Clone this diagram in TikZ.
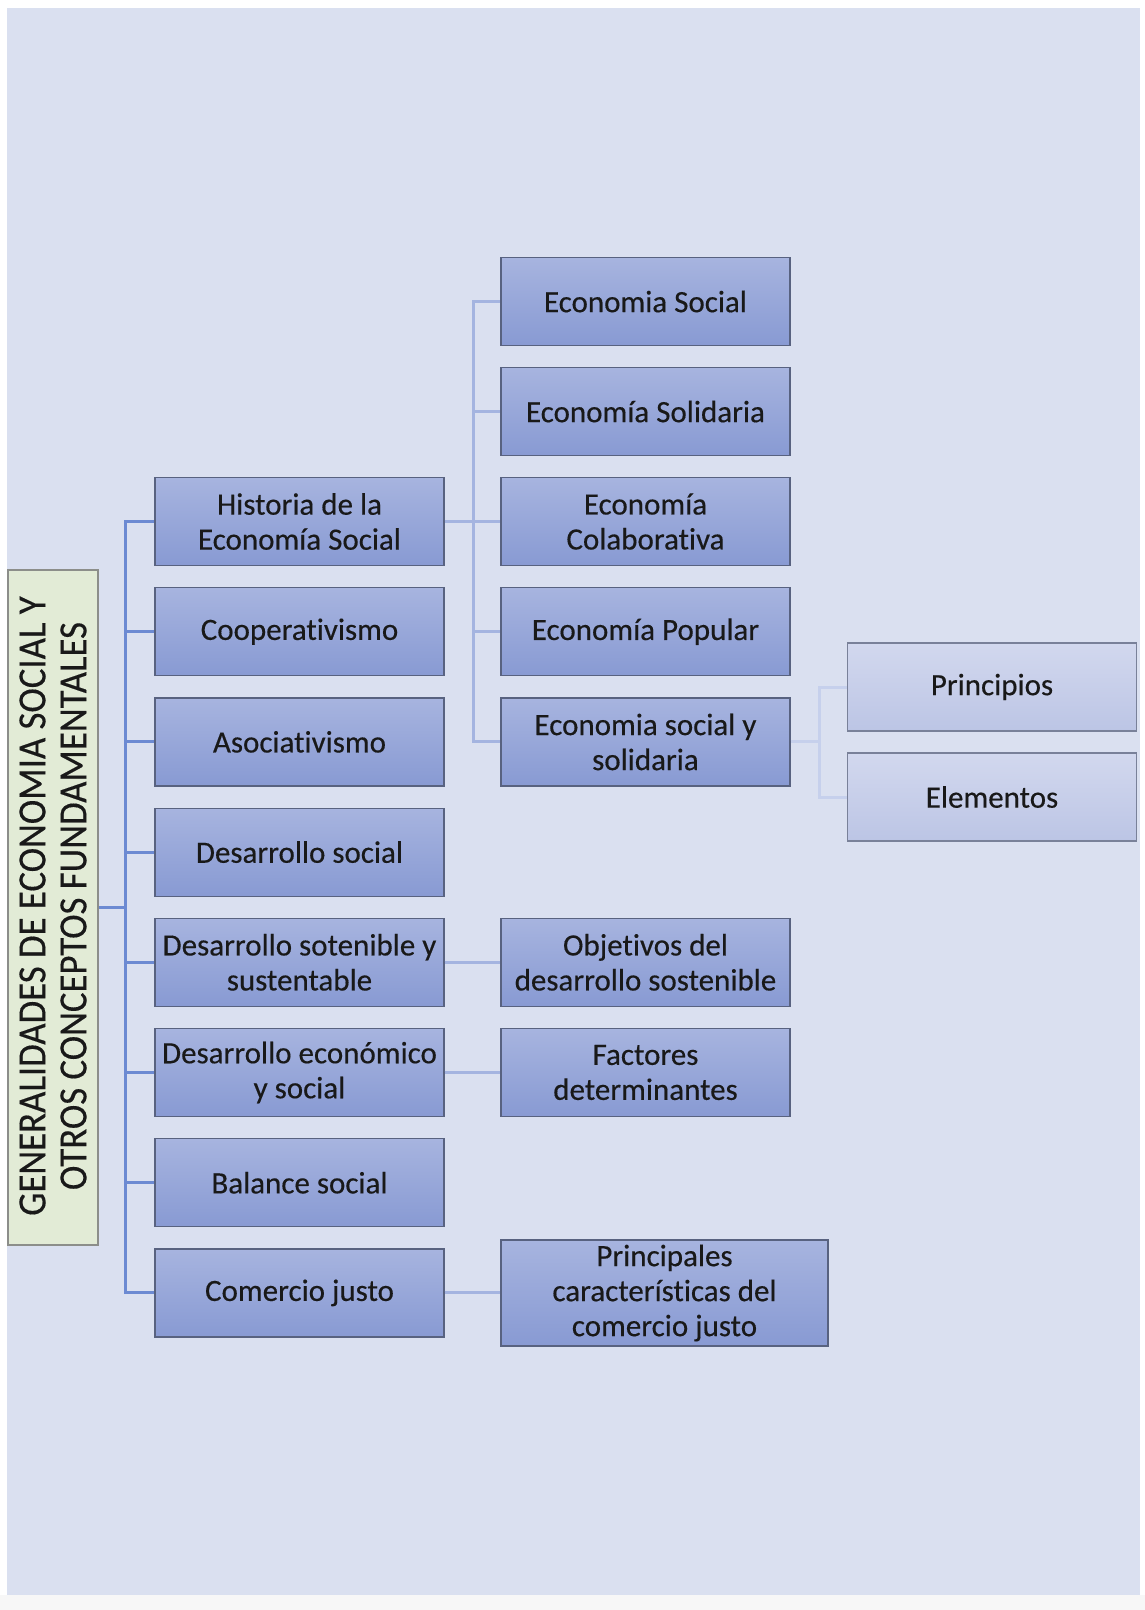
\documentclass[tikz,border=0pt]{standalone}
\usepackage{fontspec}
\setmainfont{Carlito}[Ligatures=NoCommon, BoldFont=Carlito, BoldFeatures={FakeBold=0.35}]
\usepackage{graphicx}
\definecolor{bgc}{RGB}{218,224,240}
\definecolor{btop}{RGB}{167,180,223}
\definecolor{bbot}{RGB}{136,154,211}
\definecolor{bdraw}{RGB}{88,98,128}
\definecolor{ltop}{RGB}{210,216,238}
\definecolor{lbot}{RGB}{188,197,229}
\definecolor{rootfill}{RGB}{226,235,214}
\definecolor{rootdraw}{RGB}{140,142,138}
\definecolor{cone}{RGB}{108,138,210}
\definecolor{ctwo}{RGB}{164,180,224}
\definecolor{cthree}{RGB}{198,208,236}
\tikzset{
  box/.style={draw=bdraw, line width=1.2pt, top color=btop, bottom color=bbot,
    minimum width=289pt, minimum height=88pt, inner sep=0pt, align=center,
    font=\fontsize{31}{35}\selectfont\bfseries, text=black!90},
  lbox/.style={box, top color=ltop, bottom color=lbot, draw=bdraw!80},
  rootbox/.style={draw=rootdraw, line width=1.2pt, fill=rootfill, minimum width=90pt,
    minimum height=675pt, inner sep=0pt},
  cA/.style={draw=cone, line width=3pt},
  cB/.style={draw=ctwo, line width=3pt},
  cC/.style={draw=cthree, line width=3pt},
}
\begin{document}
\begin{tikzpicture}[x=1pt,y=-1pt]
\useasboundingbox (0,0) rectangle (1145,1610);
\fill[white] (0,0) rectangle (1145,1610);
\fill[black!3] (0,1595) rectangle (1145,1610);
\fill[bgc] (7,8) rectangle (1140,1595);

% root
\node[rootbox] (root) at (53,907.5) {};
\node[rotate=90, font=\fontsize{40}{41}\selectfont\bfseries, text=black!90, align=center] (roottext) at (53,906)
  {\scalebox{0.92}[1]{GENERALIDADES DE ECONOMIA SOCIAL Y}\\\scalebox{0.92}[1]{OTROS CONCEPTOS FUNDAMENTALES}};

% column 1
\node[box] (hist) at (299.5,521.5) {Historia de la\\Economía Social};
\node[box] (coop) at (299.5,631.7) {Cooperativismo};
\node[box] (asoc) at (299.5,741.9) {Asociativismo};
\node[box] (dsoc) at (299.5,852.1) {Desarrollo social};
\node[box] (dsos) at (299.5,962.3) {Desarrollo sotenible y\\sustentable};
\node[box] (deco) at (299.5,1072.5) {Desarrollo económico\\y social};
\node[box] (bal) at (299.5,1182.7) {Balance social};
\node[box] (com) at (299.5,1292.9) {Comercio justo};

% column 2
\node[box] (es) at (645.5,301.5) {Economia Social};
\node[box] (esol) at (645.5,411.5) {Economía Solidaria};
\node[box] (ecol) at (645.5,521.5) {Economía\\Colaborativa};
\node[box] (epop) at (645.5,631.7) {Economía Popular};
\node[box] (essol) at (645.5,741.9) {Economia social y\\solidaria};
\node[box] (obj) at (645.5,962.3) {Objetivos del\\desarrollo sostenible};
\node[box] (fac) at (645.5,1072.5) {Factores\\determinantes};
\node[box, minimum width=327pt, minimum height=106pt] (pcar) at (664.5,1293) {Principales\\características del\\comercio justo};

% column 3
\node[lbox] (prin) at (992,687) {Principios};
\node[lbox] (elem) at (992,797) {Elementos};

% connectors level 1
\coordinate (j1) at (125,907.5);
\draw[cA] (root.east) -- (j1);
\foreach \n in {hist,coop,asoc,dsoc,dsos,deco,bal,com}
  \draw[cA] (j1) |- (\n.west);

% connectors level 2
\coordinate (j2) at (473,521.5);
\draw[cB] (hist.east) -- (j2);
\foreach \n in {es,esol,ecol,epop,essol}
  \draw[cB] (j2) |- (\n.west);
\draw[cB] (dsos.east) -- (obj.west);
\draw[cB] (deco.east) -- (fac.west);
\draw[cB] (com.east) -- (com.east -| pcar.west);

% connectors level 3
\coordinate (j3) at (819,741.9);
\draw[cC] (essol.east) -- (j3);
\foreach \n in {prin,elem}
  \draw[cC] (j3) |- (\n.west);
\end{tikzpicture}
\end{document}
